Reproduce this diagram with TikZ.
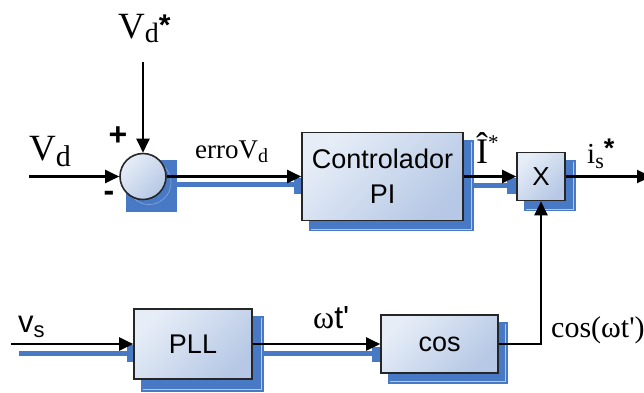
\documentclass[tikz,border=0pt]{standalone}
\usepackage{fontspec}
\setmainfont{Liberation Serif}
\setsansfont{Liberation Sans}
\usetikzlibrary{arrows.meta,calc,backgrounds}
\definecolor{shblue}{RGB}{72,121,196}
\definecolor{boxlight}{RGB}{230,237,247}
\definecolor{boxmid}{RGB}{198,213,235}
\definecolor{boxdark}{RGB}{182,200,229}
\newcommand{\fsz}[1]{\fontsize{#1}{#1}\selectfont}
\newcommand{\shbox}[5]{%
  \fill[shblue] ($(#1.north west)+(#2,#3)$) rectangle ($(#1.south east)+(#4,#5)$);
  \draw[white,opacity=0.6,line width=0.6pt] ($(#1.north east)+(#4-2.5,#3+2)$) -- ($(#1.south east)+(#4-2.5,#5-2.5)$) -- ($(#1.south west)+(#2+2,#5-2.5)$);}
\begin{document}
\begin{tikzpicture}[x=1pt,y=-1pt,
  conn/.style={line width=2.3pt, -{Triangle[length=14pt,width=13pt]}},
  block/.style={draw=black!85, line width=1.6pt, top color=boxlight, middle color=boxmid, bottom color=boxdark, shading angle=45, font=\sffamily\fsz{27}, align=center, inner sep=0pt},
  lbl/.style={anchor=base west, inner sep=0pt},
  sgn/.style={inner sep=0pt, font=\sffamily\bfseries\fsz{32}},
  shline/.style={draw=shblue, line width=5pt},
]
\useasboundingbox (0,0) rectangle (644,392);
% blocks
\node[block, circle, minimum size=46pt] (sum) at (143,176.5) {};
\node[block, minimum width=161pt, minimum height=88pt, font=\sffamily\fontsize{27}{35}\selectfont] (pi) at (382.5,176.5) {Controlador\\PI};
\node[block, minimum width=48pt, minimum height=48pt, font=\sffamily\fsz{26}] (mult) at (541,176.5) {X};
\node[block, minimum width=118pt, minimum height=70pt] (pll) at (193,344) {PLL};
\node[block, minimum width=117pt, minimum height=58pt] (cosb) at (439.5,344) {cos};
% free ends
\coordinate (vdin) at (29,176.5);
\coordinate (vdsin) at (143,62);
\coordinate (outp) at (651,176.5);
\coordinate (vsin) at (11,344);
% connectors
\draw[conn] (vdin) -- (sum.west);
\draw[conn] (vdsin) -- (sum.north);
\draw[conn] (sum.east) -- (pi.west);
\draw[conn] (pi.east) -- (mult.west);
\draw[conn] (mult.east) -- (outp);
\draw[conn] (vsin) -- (pll.west);
\draw[conn] (pll.east) -- (cosb.west);
\draw[conn] (cosb.east) -| (mult.south);
% labels
\node[lbl] (lvdstar) at (118,38) {\fsz{37}V\raisebox{-4pt}{\fsz{28}d}\raisebox{3pt}{\sffamily\bfseries\fsz{30}*}};
\node[lbl] (lvd) at (29,160) {\fsz{37}V\raisebox{-6pt}{\fsz{30}d}};
\node[sgn] (lplus) at (118,136) {+};
\node[sgn] (lminus) at (109,196) {-};
\node[lbl] (lerr) at (195,158) {\fsz{27}erroV\raisebox{-4pt}{\fsz{20}d}};
\node[lbl] (lihat) at (476,163) {\fsz{36}Î\raisebox{14pt}{\fsz{21}*}};
\node[lbl] (lis) at (587,163) {\fsz{29}i\raisebox{-5pt}{\fsz{22}s}\raisebox{6pt}{\sffamily\bfseries\fsz{27}*}};
\node[lbl] (lcos) at (551,337) {\fsz{30}cos(ωt\textquotesingle)};
\node[lbl] (lwt) at (313,328) {\fsz{32}ω{\sffamily t\textquotesingle}};
\node[lbl] (lvs) at (18,332) {\sffamily\fsz{31}v\raisebox{-5pt}{\fsz{22}s}};
% shadows
\begin{scope}[on background layer]
\fill[white] (0,0) rectangle (644,392);
\fill[shblue] ($(sum.center)+(-17,-17)$) rectangle ($(sum.center)+(34,35)$);
\draw[white,opacity=0.35,line width=0.6pt] ($(sum.center)+(6,6)$) circle[radius=22pt];
\shbox{pi}{8}{8}{10}{10}
\shbox{mult}{8}{8}{10}{10}
\shbox{pll}{8}{8}{11}{12}
\shbox{cosb}{8}{8}{9}{10}
\draw[shline] ($(sum.center)+(34,8)$) -- ($(pi.west)+(-3,8)$);
\draw[shline] ($(pi.east)+(10,9)$) -- ($(mult.west)+(-3,9)$);
\draw[shline] ($(vsin)+(8,9.5)$) -- ($(pll.west)+(-3,9.5)$);
\draw[shline] ($(pll.east)+(11,9.5)$) -- ($(cosb.west)+(-3,9.5)$);
\fill[shblue] ($(pi.west)+(-7,1)$) rectangle ($(pi.west)+(0,17)$);
\fill[shblue] ($(mult.west)+(-9,1)$) rectangle ($(mult.west)+(0,17)$);
\fill[shblue] ($(pll.west)+(-6,1)$) rectangle ($(pll.west)+(0,18)$);
\fill[shblue] ($(cosb.west)+(-8,3)$) rectangle ($(cosb.west)+(0,18)$);
\end{scope}
\end{tikzpicture}
\end{document}
